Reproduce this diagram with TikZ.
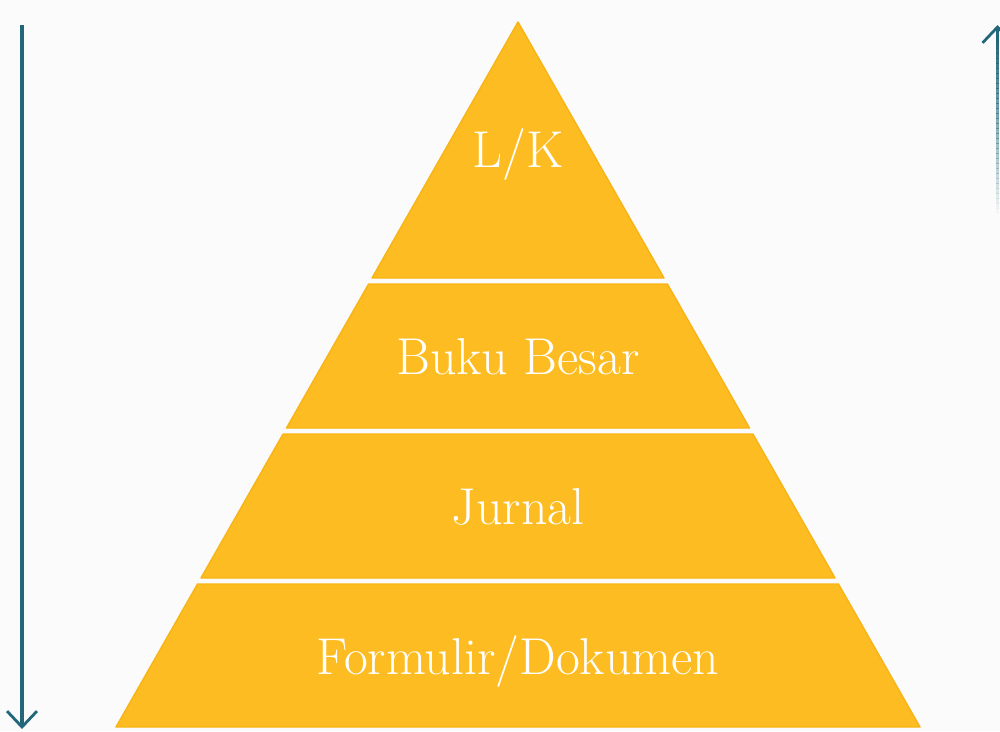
\documentclass[tikz,border=0pt]{standalone}
\usetikzlibrary{arrows.meta}
\definecolor{pyr}{HTML}{FDBD22}
\definecolor{pyredge}{HTML}{F9B414}
\definecolor{arr}{HTML}{22687A}
\definecolor{bg}{HTML}{FBFBFB}
\tikzset{
  layer/.style={fill=pyr, draw=pyredge, line width=0.8pt, line join=round},
  lbl/.style={text=white, font=\fontsize{29.5}{32}\selectfont, anchor=base},
  arrowline/.style={draw=arr, line width=2.2pt, -{Straight Barb[length=9pt,width=17pt,line width=1.6pt]}}
}
\begin{document}
\begin{tikzpicture}[x=0.02cm,y=-0.02cm]
\useasboundingbox (0,0) rectangle (1000,731);
\fill[bg] (0,0) rectangle (1000,731);
% pyramid: apex (518,22), base y=727, half width 402
\def\s{0.5702}
\path[layer] (518,22) -- ({518+\s*256},278) -- ({518-\s*256},278) -- cycle;
\path[layer] ({518-\s*262},284) -- ({518+\s*262},284) -- ({518+\s*406},428) -- ({518-\s*406},428) -- cycle;
\path[layer] ({518-\s*412},434) -- ({518+\s*412},434) -- ({518+\s*556},578) -- ({518-\s*556},578) -- cycle;
\path[layer] ({518-\s*562},584) -- ({518+\s*562},584) -- (920,727) -- (116,727) -- cycle;
\node[lbl] (lk) at (518,167) {L/K};
\node[lbl] (bb) at (518,374) {Buku Besar};
\node[lbl] (jr) at (518,524) {Jurnal};
\node[lbl] (fd) at (518,674) {Formulir/Dokumen};
% arrows
\coordinate (ltop) at (22,25);
\coordinate (lbot) at (22,729);
\draw[arrowline] (ltop) -- (lbot);
\coordinate (rtop) at (997.5,25);
\coordinate (rbot) at (997.5,40);
\foreach \i in {0,...,34}{
  \fill[arr, opacity={1-\i/35}] (996.4,{38+\i*5}) rectangle (998.6,{43.5+\i*5});
}
\draw[arrowline] (rbot) -- (rtop);
\end{tikzpicture}
\end{document}
